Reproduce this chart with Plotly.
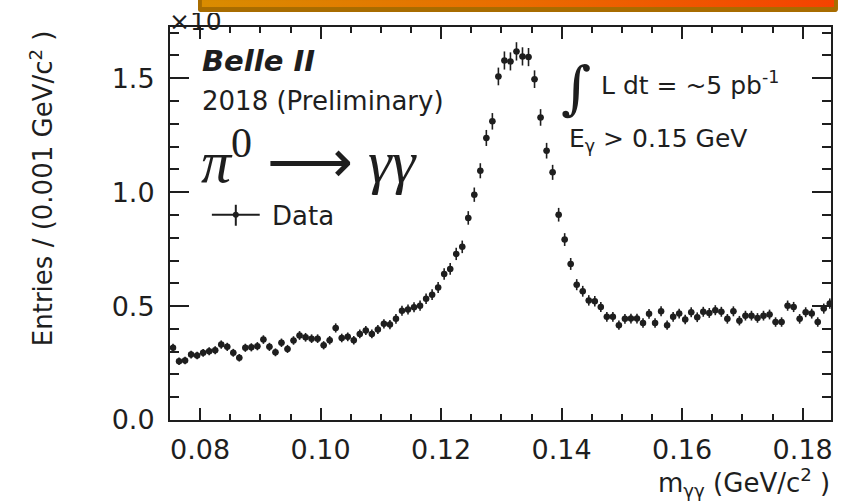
import base64
import numpy as np
import plotly.graph_objects as go

# ---- data: diphoton invariant mass spectrum, 1 MeV bins (entries in units of 10^3) ----
bin_lo = 0.075
bin_width = 0.001
entries_k = [
    0.317, 0.258, 0.261, 0.287, 0.283, 0.295, 0.302, 0.306, 0.331, 0.321,
    0.295, 0.273, 0.317, 0.319, 0.324, 0.353, 0.321, 0.297, 0.339, 0.312,
    0.349, 0.371, 0.363, 0.357, 0.357, 0.328, 0.350, 0.404, 0.360, 0.365,
    0.350, 0.378, 0.393, 0.378, 0.397, 0.422, 0.419, 0.444, 0.480, 0.485,
    0.495, 0.502, 0.532, 0.550, 0.582, 0.641, 0.663, 0.729, 0.760,
    0.887, 0.989, 1.094, 1.238, 1.311, 1.508, 1.578, 1.574, 1.618, 1.596,
    1.593, 1.496, 1.328, 1.182, 1.087, 0.901,
    0.792, 0.685, 0.594, 0.565, 0.525, 0.521, 0.496, 0.453, 0.453, 0.416,
    0.444, 0.445, 0.445, 0.426, 0.466, 0.426, 0.477, 0.416, 0.453, 0.467,
    0.441, 0.473, 0.451, 0.475, 0.470, 0.482, 0.475, 0.444, 0.477, 0.436,
    0.458, 0.458, 0.448, 0.458, 0.463, 0.430, 0.430, 0.502, 0.496, 0.444,
    0.473, 0.467, 0.430, 0.489, 0.511,
]
x_ticks = [0.08, 0.10, 0.12, 0.14, 0.16, 0.18]
y_ticks = [0.0, 0.5, 1.0, 1.5]

entries_k = np.array(entries_k)
centers = bin_lo + (np.arange(len(entries_k)) + 0.5) * bin_width
# Poisson uncertainty on the bin counts, expressed in the same 10^3 units
err_k = np.sqrt(entries_k * 1000.0) / 1000.0

INK = "#1e1e1e"
SANS = "DejaVu Sans"

# plot-area geometry in pixels (used to place the free-floating labels)
W, H = 842, 503
L, R, T, B = 170, 833, 27, 420.5


def px(x):
    return (x - L) / (R - L)


def py(y):
    return (B - y) / (B - T)


fig = go.Figure()

fig.add_trace(go.Scatter(
    x=centers, y=entries_k, mode="markers",
    marker=dict(size=6.5, color=INK),
    error_y=dict(type="data", array=err_k, width=0, thickness=1.6, color=INK),
    error_x=dict(type="constant", value=bin_width / 2, width=0, thickness=1.6, color=INK),
    showlegend=False, hoverinfo="x+y",
))

axis_common = dict(
    showline=True, linewidth=2, linecolor=INK, mirror="ticks",
    ticks="inside", tickcolor=INK, tickwidth=2,
    showgrid=False, zeroline=False,
    tickfont=dict(family=SANS, size=27, color=INK),
)

fig.update_xaxes(
    range=[0.075, 0.1847], tickvals=x_ticks, tickformat=".2f",
    ticklen=12, minor=dict(dtick=0.005, tick0=0.0, ticklen=6, tickcolor=INK, tickwidth=2, ticks="inside"),
    ticklabelstandoff=5,
    **axis_common,
)
fig.update_yaxes(
    range=[0, 1.725], tickvals=y_ticks, tickformat=".1f",
    ticklen=19, minor=dict(dtick=0.1, tick0=0.0, ticklen=9, tickcolor=INK, tickwidth=2, ticks="inside"),
    ticklabelstandoff=8,
    **axis_common,
)

ann = []


def label(text, x, y, size, xanchor="left", yanchor="middle", family=SANS, angle=0, **extra):
    ann.append(dict(
        text=text, x=px(x), y=py(y), xref="paper", yref="paper",
        xanchor=xanchor, yanchor=yanchor, showarrow=False, textangle=angle,
        font=dict(family=family, size=size, color=INK), **extra,
    ))


# axis multiplier above the frame; its upper part is tucked under the banner
label("×10", 168, 12, 25, yanchor="top", height=23, valign="bottom", borderpad=0)

label("Entries / (0.001 GeV/c<sup>2</sup> )", 41, 188, 26, xanchor="center", angle=-90)
label("m<sub>γγ</sub> (GeV/c<sup>2</sup> )", 834, 483, 26, xanchor="right")
label("<b><i>Belle II</i></b>", 200, 61, 29)
label("2018 (Preliminary)", 200, 101, 26)
label("<i>π</i><sup>0</sup> <span style='font-family:DejaVu Sans'>⟶</span> <i>γγ</i>",
      199, 158, 60, family="Liberation Serif")
label("Data", 270, 216, 26)
label("∫", 560, 88, 58, family="DejaVu Serif")
label("L dt = ~5 pb<sup>-1</sup>", 600, 84, 25)
label("E<sub>γ</sub> > 0.15 GeV", 568, 140, 25)

# legend glyph for the data points
shapes = [
    dict(type="line", xref="paper", yref="paper", x0=px(212), x1=px(260), y0=py(215), y1=py(215),
         line=dict(color=INK, width=2)),
    dict(type="line", xref="paper", yref="paper", x0=px(236), x1=px(236), y0=py(205), y1=py(226),
         line=dict(color=INK, width=2)),
    dict(type="circle", xref="paper", yref="paper", x0=px(233), x1=px(239), y0=py(212), y1=py(218),
         fillcolor=INK, line=dict(width=0)),
]

# orange title banner across the top edge
banner_svg = """<svg xmlns='http://www.w3.org/2000/svg' width='642' height='12' viewBox='0 0 642 12' preserveAspectRatio='none'>
<defs><linearGradient id='g' x1='0' y1='0' x2='1' y2='0'>
<stop offset='0' stop-color='#d98c00'/><stop offset='0.5' stop-color='#ea6c00'/><stop offset='1' stop-color='#f54200'/>
</linearGradient></defs>
<rect x='0' y='-6' width='642' height='18' rx='3' ry='3' fill='#a86c00'/>
<rect x='4' y='0' width='634' height='7' fill='url(#g)'/>
</svg>"""
banner_src = "data:image/svg+xml;base64," + base64.b64encode(banner_svg.encode()).decode()

fig.update_layout(
    width=W, height=H,
    margin=dict(l=L, r=W - R, t=T, b=H - B),
    paper_bgcolor="white", plot_bgcolor="white",
    annotations=ann, shapes=shapes,
    images=[dict(
        source=banner_src, xref="paper", yref="paper",
        x=px(198), y=py(0), sizex=px(840) - px(198), sizey=py(0) - py(12),
        xanchor="left", yanchor="top", sizing="stretch", layer="above",
    )],
    showlegend=False,
)

fig.write_html("out.html")
